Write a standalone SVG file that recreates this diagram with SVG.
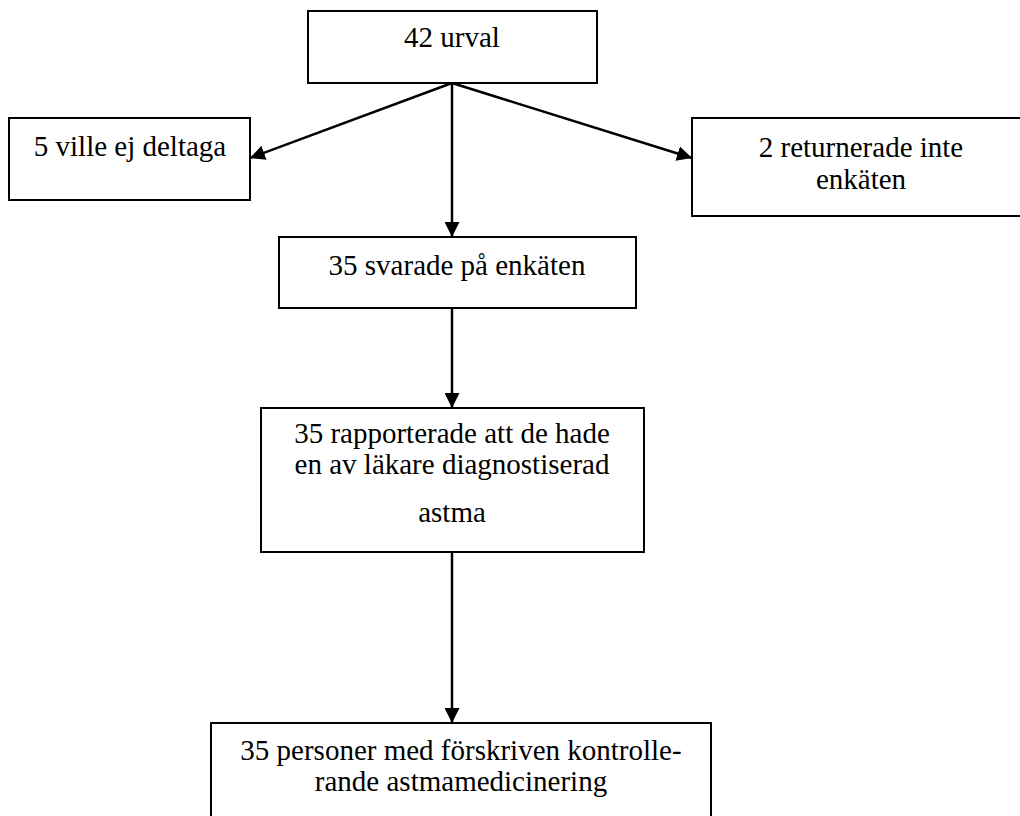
<svg xmlns="http://www.w3.org/2000/svg" width="1020" height="816" viewBox="0 0 1020 816">
<defs>
<style>
.box{fill:#fff;stroke:#000;stroke-width:2}
text{font-family:'Liberation Serif','Times New Roman',Tinos,'DejaVu Serif',serif;font-size:29px;fill:#000;text-anchor:middle}
.c{stroke:#000;stroke-width:2.5;fill:none;marker-end:url(#ah)}
</style>
<marker id="ah" viewBox="0 0 10 10" refX="10" refY="5" markerWidth="6" markerHeight="6" markerUnits="strokeWidth" orient="auto">
<path d="M0,0 L10,5 L0,10 z" fill="#000"/>
</marker>
</defs>
<rect width="1020" height="816" fill="#fff"/>
<g id="connectors">
<line class="c" x1="452" y1="83" x2="250" y2="158"/>
<line class="c" x1="452" y1="83" x2="692" y2="158"/>
<line class="c" x1="452" y1="83" x2="452" y2="237"/>
<line class="c" x1="452" y1="308" x2="452" y2="408"/>
<line class="c" x1="452" y1="552" x2="452" y2="723"/>
</g>
<g id="n1"><rect class="box" x="308" y="11" width="289" height="72"/><text font-family="Liberation Serif, serif" x="452" y="47">42 urval</text></g>
<g id="n2"><rect class="box" x="9" y="118" width="241" height="82"/><text font-family="Liberation Serif, serif" x="130" y="156">5 ville ej deltaga</text></g>
<g id="n3"><rect class="box" x="692" y="118" width="340" height="98"/><text font-family="Liberation Serif, serif" x="861" y="157">2 returnerade inte</text><text font-family="Liberation Serif, serif" x="861" y="189">enkäten</text></g>
<g id="n4"><rect class="box" x="279" y="237" width="357" height="71"/><text font-family="Liberation Serif, serif" x="457" y="275">35 svarade på enkäten</text></g>
<g id="n5"><rect class="box" x="261" y="408" width="383" height="144"/><text font-family="Liberation Serif, serif" x="452" y="443">35 rapporterade att de hade</text><text font-family="Liberation Serif, serif" x="452" y="474">en av läkare diagnostiserad</text><text font-family="Liberation Serif, serif" x="452" y="522">astma</text></g>
<g id="n6"><rect class="box" x="211" y="723" width="500" height="110"/><text font-family="Liberation Serif, serif" x="461" y="760">35 personer med förskriven kontrolle-</text><text font-family="Liberation Serif, serif" x="461" y="791">rande astmamedicinering</text></g>
</svg>
